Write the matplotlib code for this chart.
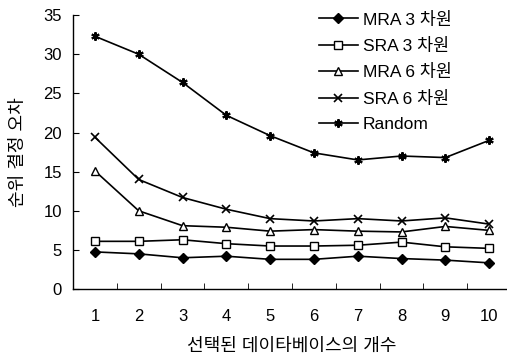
import matplotlib
matplotlib.use("Agg")
import matplotlib.pyplot as plt

plt.rcParams['font.family'] = ['Liberation Sans', 'Noto Sans CJK KR', 'DejaVu Sans']

x = [1, 2, 3, 4, 5, 6, 7, 8, 9, 10]
mra3 = [4.75, 4.5, 4.0, 4.2, 3.8, 3.8, 4.2, 3.9, 3.7, 3.35]
sra3 = [6.1, 6.1, 6.3, 5.8, 5.5, 5.5, 5.6, 6.0, 5.4, 5.2]
mra6 = [15.1, 10.0, 8.1, 7.9, 7.4, 7.6, 7.4, 7.3, 8.0, 7.5]
sra6 = [19.4, 14.0, 11.7, 10.2, 9.0, 8.7, 9.0, 8.7, 9.1, 8.3]
rand = [32.3, 30.0, 26.4, 22.2, 19.6, 17.4, 16.5, 17.0, 16.8, 19.0]

labels = ['MRA 3 차원', 'SRA 3 차원', 'MRA 6 차원', 'SRA 6 차원', 'Random']

fig = plt.figure(figsize=(5.07, 3.6), dpi=100)
ax = fig.add_axes([0.144, 0.197, 0.864, 0.761])

kw = dict(color='black', lw=1.2, markersize=6)
ax.plot(x, mra3, marker='D', markersize=5, mfc='black', label=labels[0], color='black', lw=1.2)
ax.plot(x, sra3, marker='s', mfc='white', label=labels[1], **kw)
ax.plot(x, mra6, marker='^', mfc='white', label=labels[2], **kw)
ax.plot(x, sra6, marker='x', mew=1.2, label=labels[3], **kw)
ax.plot(x, rand, marker=(6, 2, 0), mew=1.5, label=labels[4], **kw)

ax.set_xlim(0.5, 10.5)
ax.set_ylim(0, 35)
ax.set_yticks(range(0, 36, 5))
ax.set_xticks(x)
ax.set_xticks([i + 0.5 for i in range(1, 10)], minor=True)
ax.tick_params(axis='x', which='major', length=0, pad=14, labelsize=12)
ax.tick_params(axis='x', which='minor', direction='in', length=4)
ax.tick_params(axis='y', direction='in', length=4, labelsize=12, pad=8)

for s in ['top', 'right']:
    ax.spines[s].set_visible(False)
ax.spines['left'].set_linewidth(1.0)
ax.spines['bottom'].set_linewidth(1.0)

ax.set_xlabel('선택된 데이타베이스의 개수', fontsize=13, labelpad=10)
ax.set_ylabel('순위 결정 오차', fontsize=13, labelpad=12)

ax.legend(loc='upper right', frameon=False, fontsize=12.5, handlelength=2.2,
          handletextpad=0.3, labelspacing=0.6, bbox_to_anchor=(0.90, 1.07))

fig.savefig('out.png', dpi=100)
